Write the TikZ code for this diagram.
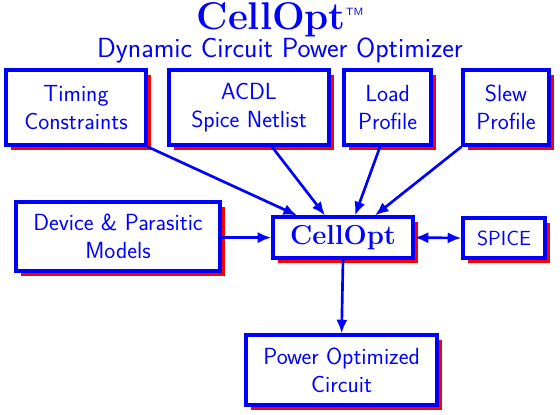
\documentclass[tikz,border=0pt]{standalone}
\usepackage{tikz}
\usetikzlibrary{positioning,arrows.meta,shadows}
\usepackage{xcolor}

\tikzset{
  optbox/.style={draw=blue, line width=2.4pt, fill=white, text=blue, align=center,
    font=\sffamily\fontsize{16.6}{20}\selectfont, inner sep=2pt,
    drop shadow={fill=red, opacity=1, shadow xshift=1.2mm, shadow yshift=-1.2mm}},
  flow/.style={draw=blue, line width=1.9pt, -{Latex[length=3.4mm,width=2.8mm]}}
}

\begin{document}
\begin{tikzpicture}
                \useasboundingbox (0,0) rectangle (14,10.35);

                % Title
                \node[text=blue, inner sep=0pt, font=\bfseries\fontsize{27.5}{30}\selectfont] (title) at (7,9.85)
                  {CellOpt\raisebox{0.85ex}{\sffamily\mdseries\fontsize{7.5}{8}\selectfont TM}};
                \node[text=blue, font=\sffamily\fontsize{19.7}{22}\selectfont] (subtitle) at (7,9.1)
                  {Dynamic Circuit Power Optimizer};

                % Inputs on top
                \node[optbox, minimum width=3.5cm, minimum height=1.875cm] (tc) at (1.9,7.66)
                  {Timing\\Constraints};
                \node[optbox, minimum width=4cm, minimum height=1.875cm] (acdl) at (6.225,7.66)
                  {ACDL\\Spice Netlist};
                \node[optbox, minimum width=2.175cm, minimum height=1.875cm] (load) at (9.69,7.66)
                  {Load\\Profile};
                \node[optbox, minimum width=2.15cm, minimum height=1.875cm] (slew) at (12.65,7.66)
                  {Slew\\Profile};

                % Middle row
                \node[optbox, minimum width=5.1cm, minimum height=1.725cm] (dev) at (2.95,4.44)
                  {Device \& Parasitic\\Models};
                \node[optbox, minimum width=3.5cm, minimum height=1.025cm,
                  font=\bfseries\fontsize{19.5}{21}\selectfont] (co) at (8.575,4.41) {CellOpt};
                \node[optbox, minimum width=2.05cm, minimum height=1cm,
                  font=\sffamily\fontsize{14.5}{16}\selectfont] (spice) at (12.6,4.4) {SPICE};

                % Output
                \node[optbox, minimum width=4.775cm, minimum height=1.75cm] (out) at (8.54,1.1)
                  {Power Optimized\\Circuit};

                % Connectors
                \draw[flow] (tc.south east) -- ([xshift=-1.15cm]co.north);
                \draw[flow] ([xshift=0.575cm]acdl.south) -- ([xshift=-0.45cm]co.north);
                \draw[flow] ([xshift=-0.19cm]load.south) -- ([xshift=0.3cm]co.north);
                \draw[flow] (slew.south west) -- ([xshift=0.8cm]co.north);
                \draw[flow] (dev.east |- co.west) -- (co.west);
                \draw[flow, {Latex[length=3.4mm,width=2.8mm]}-{Latex[length=3.4mm,width=2.8mm]}] (co.east) -- (spice.west);
                \draw[flow] (co.south) -- (out.north);
\end{tikzpicture}
\end{document}
